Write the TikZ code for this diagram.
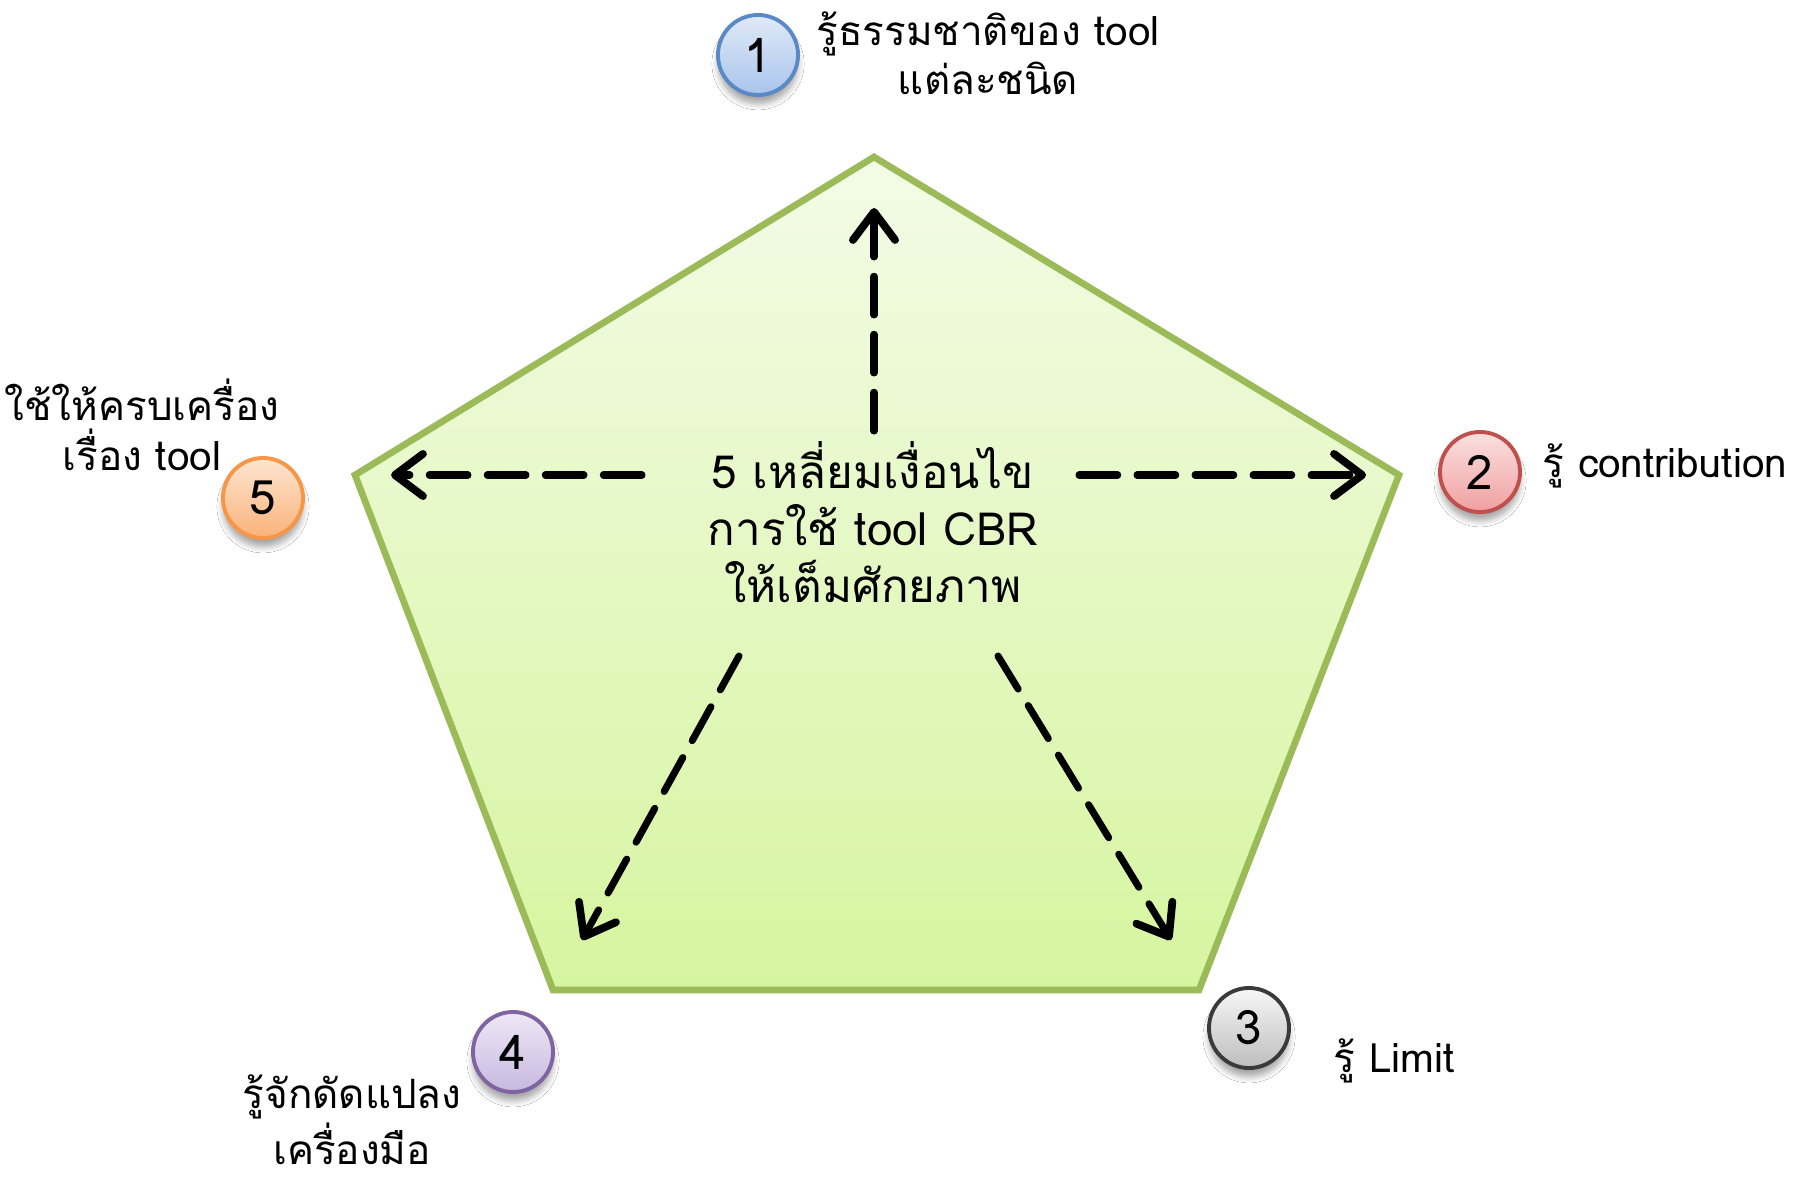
\documentclass[tikz,border=0pt]{standalone}
\usepackage{fontspec}
\newfontfamily\thai[Script=Thai]{Loma}
\usetikzlibrary{arrows.meta,shadows.blur}
\definecolor{pgreen}{HTML}{9BBB59}
\definecolor{ptop}{HTML}{F3FBE6}
\definecolor{pbot}{HTML}{D6F5A0}
\definecolor{b1}{HTML}{5A8AC6}\definecolor{t1}{HTML}{E0EAF8}\definecolor{f1}{HTML}{A9C4EC}
\definecolor{b2}{HTML}{C0504D}\definecolor{t2}{HTML}{FBE0E0}\definecolor{f2}{HTML}{F0A0A0}
\definecolor{b3}{HTML}{3A3A3A}\definecolor{t3}{HTML}{F7F7F7}\definecolor{f3}{HTML}{BDBDBD}
\definecolor{b4}{HTML}{8064A2}\definecolor{t4}{HTML}{EEE8F5}\definecolor{f4}{HTML}{C8B8E0}
\definecolor{b5}{HTML}{F79646}\definecolor{t5}{HTML}{FDE6D0}\definecolor{f5}{HTML}{FAB27A}
\tikzset{
  numc/.style={circle, minimum size=0.8cm, inner sep=0pt, line width=1.1pt,
    font=\thai\fontsize{13.5}{15}\selectfont,
    blur shadow={shadow blur steps=6, shadow xshift=0pt, shadow yshift=-2.5pt, shadow opacity=35}},
  lbl/.style={font=\thai\fontsize{11.5}{14}\selectfont, inner sep=0pt},
  ctr/.style={font=\thai\fontsize{13}{16.2}\selectfont, inner sep=0pt, align=center},
  darrow/.style={line width=2pt, dash pattern=on 11pt off 5.5pt, line cap=round,
    -{Straight Barb[round, length=8pt, width=12pt, line width=2.2pt]}},
}
\begin{document}
\begin{tikzpicture}[x=0.01cm, y=-0.01cm]
\useasboundingbox[fill=white] (0,0) rectangle (1806,1182);
% pentagon
\coordinate (pt) at (874,157);
\coordinate (pr) at (1399,475);
\coordinate (pbr) at (1199,990);
\coordinate (pbl) at (553,990);
\coordinate (pl) at (355,475);
\path[draw=pgreen, line width=1.9pt, line join=miter, top color=ptop, bottom color=pbot]
  (pt) -- (pr) -- (pbr) -- (pbl) -- (pl) -- cycle;
% centre text (base = last line)
\node[ctr, anchor=base] (ctext) at (873,602) {5 เหลี่ยมเงื่อนไข\\การใช้ tool CBR\\ให้เต็มศักยภาพ};
% arrow ends
\coordinate (au0) at (874,431);
\coordinate (au1) at (874,208);
\coordinate (al0) at (642,475);
\coordinate (al1) at (391,475);
\coordinate (ar0) at (1079,475);
\coordinate (ar1) at (1366,475);
\coordinate (adl0) at (739,656);
\coordinate (adl1) at (582,940);
\coordinate (adr0) at (998,656);
\coordinate (adr1) at (1171,940);
\draw[darrow] (au0) -- (au1);
\draw[darrow] (al0) -- (al1);
\draw[darrow] (ar0) -- (ar1);
\draw[darrow] (adl0) -- (adl1);
\draw[darrow] (adr0) -- (adr1);
% numbered circles
\node[numc, draw=b1, top color=t1, bottom color=f1] (c1) at (758,55) {1};
\node[numc, draw=b2, top color=t2, bottom color=f2] (c2) at (1480,472) {2};
\node[numc, draw=b3, top color=t3, bottom color=f3] (c3) at (1249,1028) {3};
\node[numc, draw=b4, top color=t4, bottom color=f4] (c4) at (513,1052) {4};
\node[numc, draw=b5, top color=t5, bottom color=f5] (c5) at (263,498) {5};
% labels (base = last line)
\node[lbl, align=center, anchor=base] (l1) at (988,95) {รู้ธรรมชาติของ tool\\แต่ละชนิด};
\node[lbl, anchor=base west] (l2) at (1542,477) {รู้ contribution};
\node[lbl, anchor=base west] (l3) at (1333,1072) {รู้ Limit};
\node[lbl, align=center, anchor=base] (l4) at (352,1164) {รู้จักดัดแปลง\\เครื่องมือ};
\node[lbl, align=center, anchor=base] (l5) at (142,470) {ใช้ให้ครบเครื่อง\\เรื่อง tool};
\end{tikzpicture}
\end{document}
